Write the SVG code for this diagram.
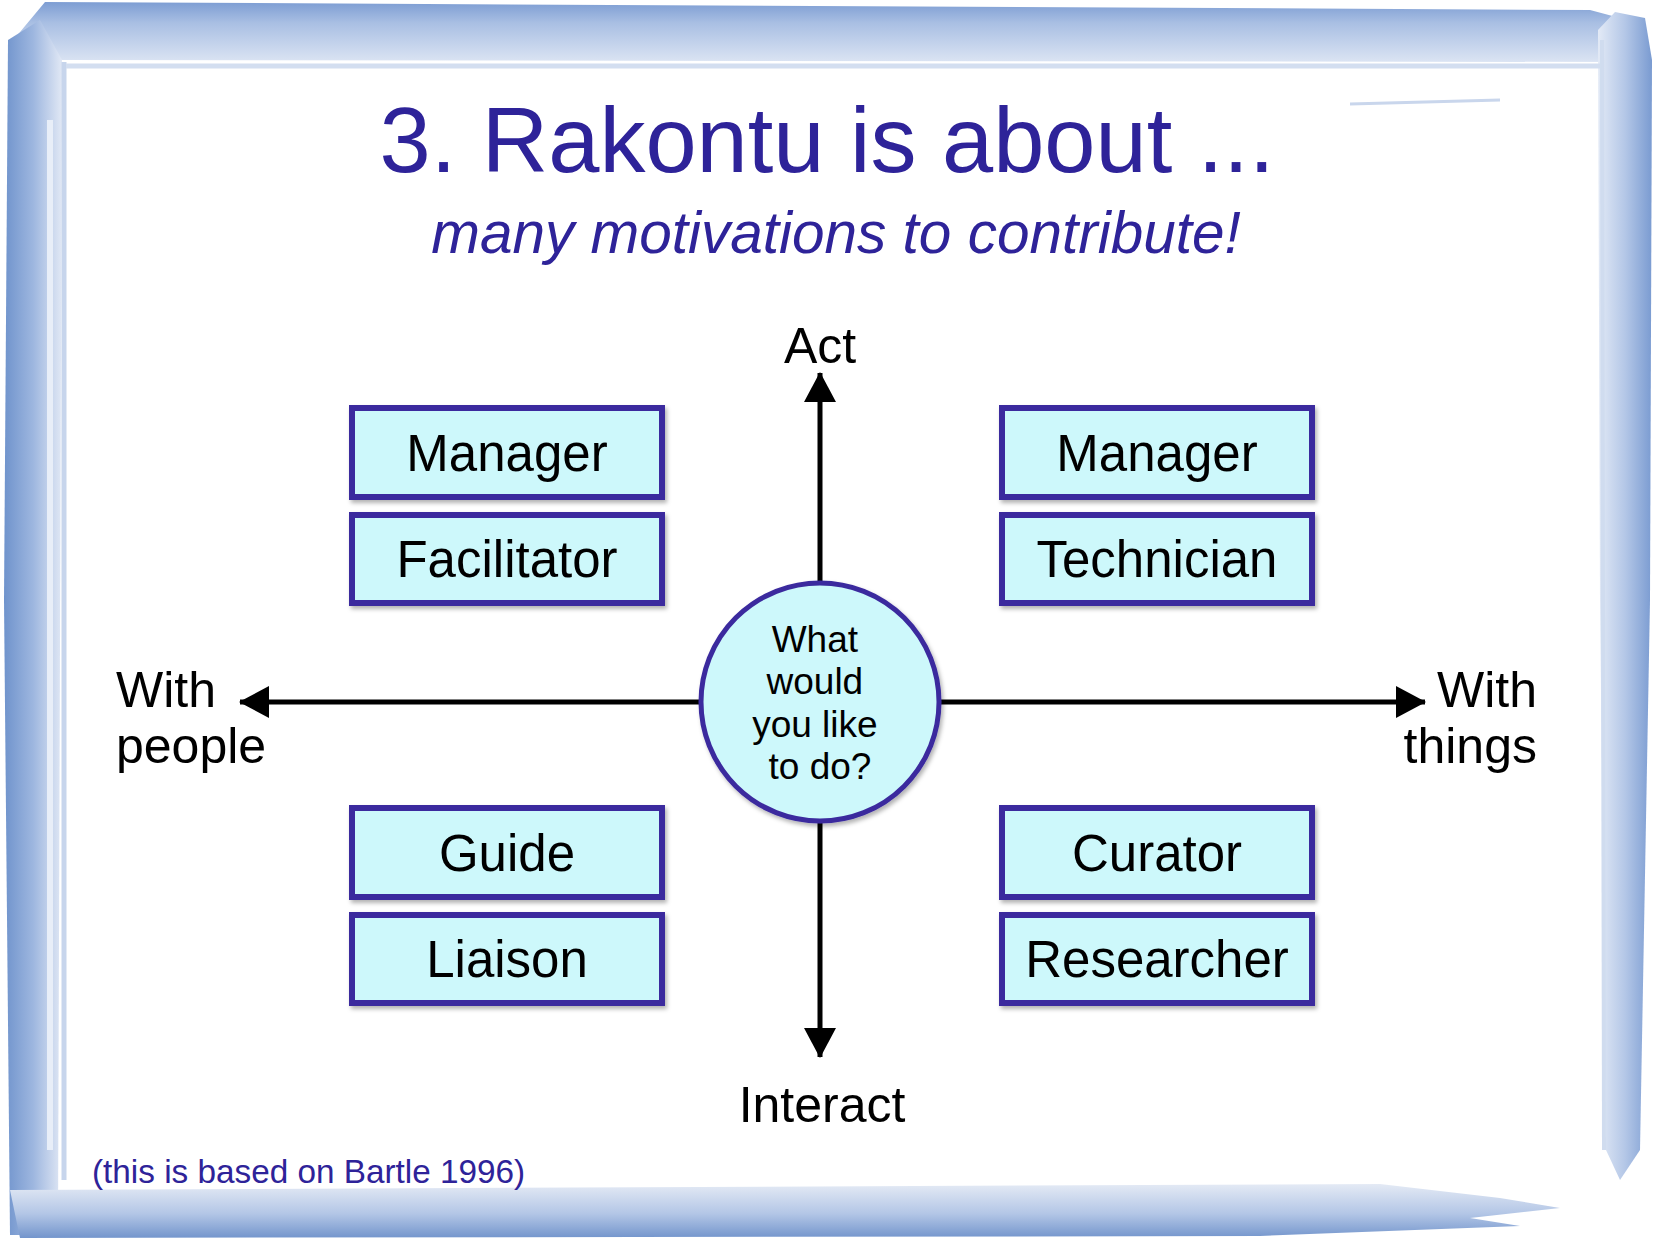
<svg xmlns="http://www.w3.org/2000/svg" width="1653" height="1240" viewBox="0 0 1653 1240">
<style>
.t{font-family:"Liberation Sans",Arial,sans-serif}
.box{fill:#cdf8fb;stroke:#3a2a9e;stroke-width:6}
.lbl{font-size:51px;fill:#000;text-anchor:middle}
.ax{font-size:50px;fill:#000}
.ln{stroke:#000;stroke-width:5;fill:none}
</style>
<defs>
<filter id="sh" x="-10%" y="-10%" width="130%" height="130%">
<feDropShadow dx="2" dy="3" stdDeviation="2" flood-color="#000" flood-opacity="0.3"/>
</filter>
<marker id="ah" markerUnits="userSpaceOnUse" markerWidth="32" markerHeight="32" viewBox="0 0 30 32" refX="29" refY="16" orient="auto">
<polygon points="0,0 30,16 0,32" fill="#000"/>
</marker>
<linearGradient id="gTop" x1="0" y1="0" x2="0" y2="1">
<stop offset="0" stop-color="#7d9dd3"/>
<stop offset="0.35" stop-color="#a9bfe3"/>
<stop offset="1" stop-color="#dbe4f3"/>
</linearGradient>
<linearGradient id="gLeft" x1="0" y1="0" x2="1" y2="0">
<stop offset="0" stop-color="#6f93cc"/>
<stop offset="0.5" stop-color="#9db6df"/>
<stop offset="1" stop-color="#e1e8f5"/>
</linearGradient>
<linearGradient id="gRight" x1="0" y1="0" x2="1" y2="0">
<stop offset="0" stop-color="#e3eaf6"/>
<stop offset="0.5" stop-color="#b4c7e7"/>
<stop offset="1" stop-color="#7a9bd1"/>
</linearGradient>
<linearGradient id="gBot" x1="0" y1="0" x2="0" y2="1">
<stop offset="0" stop-color="#e4eaf5"/>
<stop offset="0.55" stop-color="#b3c6e6"/>
<stop offset="1" stop-color="#7395cc"/>
</linearGradient>
</defs>
<rect width="1653" height="1240" fill="#fff"/>
<g id="frame">
<polygon points="45,2 1590,10 1620,18 1622,62 62,60 40,62 10,44" fill="url(#gTop)"/>
<polygon points="8,40 40,20 62,60 58,1235 10,1235 4,600" fill="url(#gLeft)"/>
<polygon points="1598,30 1615,12 1645,18 1652,60 1650,600 1640,1150 1620,1180 1606,1150 1600,600" fill="url(#gRight)"/>
<polygon points="10,1190 1380,1184 1500,1198 1560,1208 1470,1218 1520,1226 1260,1236 20,1238" fill="url(#gBot)"/>
<path d="M 50 120 L 50 1150" stroke="#e8eef8" stroke-width="6" fill="none"/>
<path d="M 64 62 L 64 1180" stroke="#c7d5ec" stroke-width="5" fill="none"/>
<path d="M 66 66 L 1600 66" stroke="#d3def0" stroke-width="5" fill="none"/>
<path d="M 1350 104 L 1500 100" stroke="#c9d6ec" stroke-width="3" fill="none"/>
<path d="M 1602 40 L 1604 1150" stroke="#d0dcef" stroke-width="4" fill="none"/>
</g>
<g id="title" class="t">
<text x="827" y="172" font-size="92" fill="#2e2399" text-anchor="middle">3. Rakontu is about ...</text>
<text x="836" y="253" font-size="58.5" font-style="italic" fill="#2e2399" text-anchor="middle">many motivations to contribute!</text>
</g>
<g id="connectors">
<line class="ln" x1="820" y1="583" x2="820" y2="373" marker-end="url(#ah)"/>
<line class="ln" x1="820" y1="821" x2="820" y2="1057" marker-end="url(#ah)"/>
<line class="ln" x1="701" y1="702" x2="240" y2="702" marker-end="url(#ah)"/>
<line class="ln" x1="939" y1="702" x2="1425" y2="702" marker-end="url(#ah)"/>
</g>
<g id="center" class="t">
<circle cx="820" cy="702" r="119" fill="#cdf8fb" stroke="#3a2a9e" stroke-width="5" filter="url(#sh)"/>
<text font-size="37" text-anchor="middle" fill="#000">
<tspan x="820" y="652">What</tspan>
<tspan x="820" y="694">would</tspan>
<tspan x="820" y="737">you like</tspan>
<tspan x="820" y="779">to do?</tspan>
</text>
</g>
<g id="n-manager-left" class="t"><rect class="box" x="352" y="408" width="310" height="89" filter="url(#sh)"/><text class="lbl" x="507" y="471">Manager</text></g>
<g id="n-facilitator" class="t"><rect class="box" x="352" y="515" width="310" height="88" filter="url(#sh)"/><text class="lbl" x="507" y="577">Facilitator</text></g>
<g id="n-guide" class="t"><rect class="box" x="352" y="808" width="310" height="89" filter="url(#sh)"/><text class="lbl" x="507" y="871">Guide</text></g>
<g id="n-liaison" class="t"><rect class="box" x="352" y="915" width="310" height="88" filter="url(#sh)"/><text class="lbl" x="507" y="977">Liaison</text></g>
<g id="n-manager-right" class="t"><rect class="box" x="1002" y="408" width="310" height="89" filter="url(#sh)"/><text class="lbl" x="1157" y="471">Manager</text></g>
<g id="n-technician" class="t"><rect class="box" x="1002" y="515" width="310" height="88" filter="url(#sh)"/><text class="lbl" x="1157" y="577">Technician</text></g>
<g id="n-curator" class="t"><rect class="box" x="1002" y="808" width="310" height="89" filter="url(#sh)"/><text class="lbl" x="1157" y="871">Curator</text></g>
<g id="n-researcher" class="t"><rect class="box" x="1002" y="915" width="310" height="88" filter="url(#sh)"/><text class="lbl" x="1157" y="977">Researcher</text></g>
<g id="axis-labels" class="t">
<text class="ax" x="820" y="363" text-anchor="middle">Act</text>
<text class="ax" x="822" y="1122" text-anchor="middle">Interact</text>
<text class="ax" x="116" y="707">With</text>
<text class="ax" x="116" y="763">people</text>
<text class="ax" x="1537" y="707" text-anchor="end">With</text>
<text class="ax" x="1537" y="763" text-anchor="end">things</text>
</g>
<g id="footer" class="t">
<text x="92" y="1183" font-size="33.3" fill="#2e2399">(this is based on Bartle 1996)</text>
</g>
</svg>
